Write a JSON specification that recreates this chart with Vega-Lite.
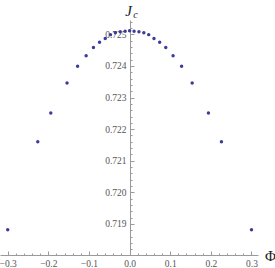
{
  "$schema": "https://vega.github.io/schema/vega-lite/v6.json",
  "width": 258,
  "height": 235,
  "autosize": "none",
  "padding": {"left": 0, "top": 20, "right": 17, "bottom": 13},
  "background": "white",
  "config": {
    "view": {"stroke": null},
    "axis": {
      "grid": false,
      "domainColor": "#9a9a9a",
      "tickColor": "#9a9a9a",
      "labelFont": "Liberation Serif",
      "labelFontSize": 9.5,
      "labelColor": "#555555",
      "titleFont": "Liberation Serif",
      "titleColor": "#222222",
      "titleFontWeight": "normal"
    }
  },
  "data": {
    "values": [
      {"phi": -0.3, "jc": 0.71882},
      {"phi": -0.226, "jc": 0.7216},
      {"phi": -0.194, "jc": 0.72251},
      {"phi": -0.154, "jc": 0.72346},
      {"phi": -0.128, "jc": 0.72399},
      {"phi": -0.107, "jc": 0.72432},
      {"phi": -0.089, "jc": 0.72458},
      {"phi": -0.074, "jc": 0.72475},
      {"phi": -0.06, "jc": 0.72487},
      {"phi": -0.047, "jc": 0.72499},
      {"phi": -0.035, "jc": 0.72505},
      {"phi": -0.023, "jc": 0.72508},
      {"phi": -0.011, "jc": 0.7251},
      {"phi": 0.0, "jc": 0.72511},
      {"phi": 0.011, "jc": 0.7251},
      {"phi": 0.023, "jc": 0.72508},
      {"phi": 0.035, "jc": 0.72505},
      {"phi": 0.047, "jc": 0.72499},
      {"phi": 0.06, "jc": 0.72487},
      {"phi": 0.074, "jc": 0.72475},
      {"phi": 0.089, "jc": 0.72458},
      {"phi": 0.107, "jc": 0.72432},
      {"phi": 0.128, "jc": 0.72399},
      {"phi": 0.154, "jc": 0.72346},
      {"phi": 0.194, "jc": 0.72251},
      {"phi": 0.226, "jc": 0.7216},
      {"phi": 0.3, "jc": 0.71882}
    ]
  },
  "resolve": {"axis": {"x": "independent", "y": "independent"}},
  "layer": [
    {
      "mark": {"type": "point", "filled": true, "opacity": 0},
      "encoding": {
        "x": {
          "field": "phi", "type": "quantitative",
          "scale": {"domain": [-0.319, 0.316], "nice": false, "zero": false},
          "axis": {
            "orient": "bottom",
            "values": [-0.28, -0.26, -0.24, -0.22, -0.18, -0.16, -0.14, -0.12, -0.08, -0.06, -0.04, -0.02, 0.02, 0.04, 0.06, 0.08, 0.12, 0.14, 0.16, 0.18, 0.22, 0.24, 0.26, 0.28],
            "labels": false, "domain": false, "tickSize": -2, "title": null
          }
        },
        "y": {
          "field": "jc", "type": "quantitative",
          "scale": {"domain": [0.718019, 0.725453], "nice": false, "zero": false},
          "axis": {
            "orient": "left",
            "values": [0.7182, 0.7184, 0.7186, 0.7188, 0.7192, 0.7194, 0.7196, 0.7198, 0.7202, 0.7204, 0.7206, 0.7208, 0.7212, 0.7214, 0.7216, 0.7218, 0.7222, 0.7224, 0.7226, 0.7228, 0.7232, 0.7234, 0.7236, 0.7238, 0.7242, 0.7244, 0.7246, 0.7248, 0.7252, 0.7254],
            "labels": false, "domain": false, "tickSize": -2, "offset": -130,
            "title": "c", "titleFont": "Liberation Serif", "titleFontStyle": "italic", "titleFontSize": 10,
            "titleAngle": 0, "titleAlign": "center", "titleBaseline": "middle", "titleX": 5, "titleY": -6
          }
        }
      }
    },
    {
      "mark": {"type": "point", "filled": true, "size": 12, "color": "#3d3d99", "opacity": 1},
      "encoding": {
        "x": {
          "field": "phi", "type": "quantitative",
          "axis": {
            "orient": "bottom",
            "values": [-0.3, -0.2, -0.1, 0, 0.1, 0.2, 0.3],
            "format": ".1f", "tickSize": -4, "labelPadding": 7,
            "title": "Φ", "titleFontSize": 15, "titleAngle": 0, "titleAlign": "center", "titleBaseline": "middle",
            "titleX": 270, "titleY": 0
          }
        },
        "y": {
          "field": "jc", "type": "quantitative",
          "axis": {
            "orient": "left",
            "values": [0.719, 0.72, 0.721, 0.722, 0.723, 0.724, 0.725],
            "format": ".3f", "tickSize": -4, "labelPadding": 8, "offset": -130,
            "title": "J", "titleFontStyle": "italic", "titleFontSize": 15,
            "titleAngle": 0, "titleAlign": "center", "titleBaseline": "middle", "titleX": -2, "titleY": -10
          }
        }
      }
    }
  ]
}
